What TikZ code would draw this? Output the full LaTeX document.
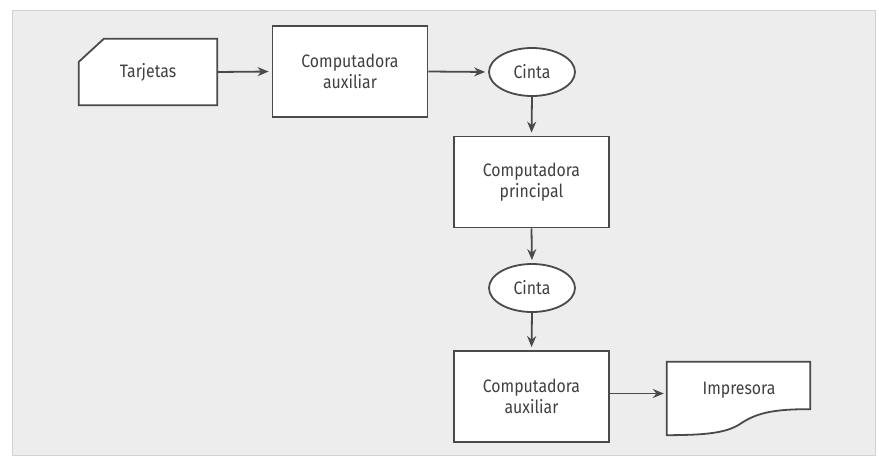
\documentclass[tikz,border=0pt]{standalone}
\usepackage{fontspec}
\setmainfont[FakeStretch=0.88]{Fira Sans}
\usetikzlibrary{arrows.meta,shapes.geometric}
\definecolor{panelgray}{HTML}{EDEDED}
\definecolor{linegray}{HTML}{4A4A4A}
\definecolor{textgray}{HTML}{404040}
\begin{document}
\begin{tikzpicture}[
    x=1pt, y=-1pt,
    % Define Styles
    procbox/.style={
        rectangle,
        draw=linegray,
        line width=1.8pt,
        fill=white,
        minimum width=155pt,
        minimum height=91pt,
        inner sep=0pt,
        align=center,
        text=textgray,
        font=\fontsize{18}{21}\selectfont
    },
    tapenode/.style={
        ellipse,
        draw=linegray,
        line width=1.8pt,
        fill=white,
        minimum width=86pt,
        minimum height=48pt,
        inner sep=0pt,
        text=textgray,
        font=\fontsize{18}{21}\selectfont
    },
    shapearea/.style={
        rectangle,
        inner sep=0pt
    },
    outline/.style={
        draw=linegray,
        line width=1.8pt,
        fill=white
    },
    labeltext/.style={
        text=textgray,
        font=\fontsize{18}{21}\selectfont
    },
    flow/.style={
        draw=linegray,
        line width=1.8pt,
        -{Stealth[length=11pt,width=9pt]},
        shorten >=3pt
    }
    ]

    % Background
    \useasboundingbox (0,0) rectangle (879,463);
    \fill[panelgray] (12,10) rectangle (875,455);
    \draw[gray!35, line width=0.8pt] (12,10) rectangle (875,455);

    % Card (Tarjetas)
    \node[shapearea, minimum width=138pt, minimum height=66pt] (cards) at (148,72) {};
    \draw[outline] ([xshift=25pt]cards.north west) -- (cards.north east)
        -- (cards.south east) -- (cards.south west)
        -- ([yshift=-23pt]cards.north west) -- cycle;
    \node[labeltext] (cardstxt) at (cards.center) {Tarjetas};

    % Process boxes and tapes
    \node[procbox] (aux1) at (350,71.5) {Computadora\\auxiliar};
    \node[tapenode] (tape1) at (532,72) {Cinta};
    \node[procbox] (main) at (531.5,182) {Computadora\\principal};
    \node[tapenode] (tape2) at (532,288) {Cinta};
    \node[procbox] (aux2) at (531.5,396.5) {Computadora\\auxiliar};

    % Document (Impresora)
    \node[shapearea, minimum width=143pt, minimum height=73pt] (printer) at (738.5,398.5) {};
    \draw[outline] (printer.south west) -- (printer.north west)
        -- (printer.north east) -- ([yshift=26pt]printer.south east)
        .. controls (770,409) and (755,414) .. (740,424)
        .. controls (725,434) and (700,435) .. (printer.south west) -- cycle;
    \node[labeltext] (printertxt) at (739,390) {Impresora};

    % Connectors
    \draw[flow] (cards.east) -- (aux1.west);
    \draw[flow] (aux1.east) -- (tape1.west);
    \draw[flow] (tape1.south) -- (main.north);
    \draw[flow] (main.south) -- (tape2.north);
    \draw[flow] (tape2.south) -- (aux2.north);
    \draw[flow] ([yshift=3pt]aux2.east) -- ([yshift=3pt]aux2.east -| printer.west);

\end{tikzpicture}
\end{document}
